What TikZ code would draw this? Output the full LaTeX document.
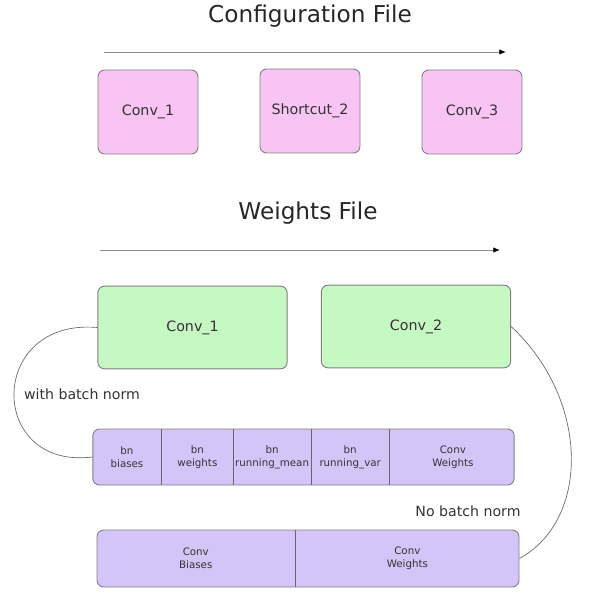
\documentclass[tikz,border=0pt]{standalone}
\usepackage{fontspec}
\setmainfont{DejaVu Sans}
\usepackage{tikz}
\usetikzlibrary{arrows.meta,positioning}
\definecolor{layerpink}{HTML}{F8C4F4}
\definecolor{layergreen}{HTML}{C6F8C4}
\definecolor{layerpurple}{HTML}{D4C4F8}
\definecolor{boxedge}{HTML}{808080}
\definecolor{inktext}{HTML}{333333}
\tikzset{
  file-title/.style={font=\fontsize{17.4}{20}\selectfont, text=black!85},
  file-order/.style={draw=black!45, line width=0.6pt, -{Latex[length=5pt,width=4pt,black]}},
  cfg-layer/.style={draw=boxedge, fill=layerpink, rounded corners=5pt, line width=0.7pt,
    minimum width=75pt, minimum height=63pt, font=\fontsize{10.7}{12}\selectfont, text=inktext},
  wts-layer/.style={draw=boxedge, fill=layergreen, rounded corners=5pt, line width=0.7pt,
    minimum width=142pt, minimum height=62pt, font=\fontsize{10.7}{12}\selectfont, text=inktext},
  wts-block/.style={draw=boxedge, fill=layerpurple, rounded corners=5pt, line width=0.7pt,
    inner sep=0pt},
  wts-cell/.style={inner sep=0pt, align=center, anchor=west,
    font=\fontsize{7.7}{9.5}\selectfont, text=inktext},
  wts-divider/.style={draw=black!60, line width=0.6pt},
  wts-link/.style={draw=black!60, line width=0.5pt},
  wts-note/.style={font=\fontsize{10.6}{12}\selectfont, text=inktext}
}

\begin{document}
\begin{tikzpicture}[x=0.75pt, y=-0.75pt]
  \useasboundingbox (0,0) rectangle (590,606);

  % Configuration file
  \node[file-title] (cfg-title) at (310,16) {Configuration File};
  \coordinate (cfg-from) at (104,52);
  \coordinate (cfg-to) at (506,52);
  \draw[file-order] (cfg-from) -- (cfg-to);

  \node[cfg-layer] (cfg-conv1) at (148,112) {Conv\_1};
  \node[cfg-layer] (cfg-short2) at (310,111) {Shortcut\_2};
  \node[cfg-layer] (cfg-conv3) at (472,112) {Conv\_3};

  % Weights file
  \node[file-title] (wts-title) at (308,213) {Weights File};
  \coordinate (wts-from) at (100,250);
  \coordinate (wts-to) at (500,250);
  \draw[file-order] (wts-from) -- (wts-to);

  \node[wts-layer] (wts-conv1) at (192.5,327.5) {Conv\_1};
  \node[wts-layer] (wts-conv2) at (416,326.5) {Conv\_2};

  % Batch norm layout
  \node[wts-block, minimum width=316pt, minimum height=42pt] (bn-row) at (303.5,457) {};
  \node[wts-cell, minimum width=51.5pt, minimum height=42pt] (bn-biases) at (bn-row.west) {bn\\biases};
  \node[wts-cell, minimum width=53.3pt, minimum height=42pt, right=0pt of bn-biases] (bn-weights) {bn\\weights};
  \node[wts-cell, minimum width=58pt, minimum height=42pt, right=0pt of bn-weights] (bn-mean) {bn\\running\_mean};
  \node[wts-cell, minimum width=58.3pt, minimum height=42pt, right=0pt of bn-mean] (bn-var) {bn\\running\_var};
  \node[wts-cell, minimum width=94.9pt, minimum height=42pt, right=0pt of bn-var] (bn-convw) {Conv\\Weights};
  \foreach \cell in {bn-biases,bn-weights,bn-mean,bn-var}
    \draw[wts-divider] (\cell.north east) -- (\cell.south east);

  % Plain conv layout
  \node[wts-block, minimum width=316.5pt, minimum height=42.75pt] (conv-row) at (308,558.5) {};
  \node[wts-cell, minimum width=148.5pt, minimum height=42.75pt] (conv-biases) at (conv-row.west) {Conv\\Biases};
  \node[wts-cell, minimum width=168pt, minimum height=42.75pt, right=0pt of conv-biases] (conv-convw) {Conv\\Weights};
  \draw[wts-divider] (conv-biases.north east) -- (conv-biases.south east);

  % Links
  \draw[wts-link] (wts-conv1.west) .. controls (-13,318) and (-13,470) .. (bn-row.west);
  \draw[wts-link] (wts-conv2.east) .. controls (590,400) and (590,520) .. (conv-row.east);
  \node[wts-note] (note-bn) at (82,394) {with batch norm};
  \node[wts-note] (note-nobn) at (468,511) {No batch norm};
\end{tikzpicture}
\end{document}
